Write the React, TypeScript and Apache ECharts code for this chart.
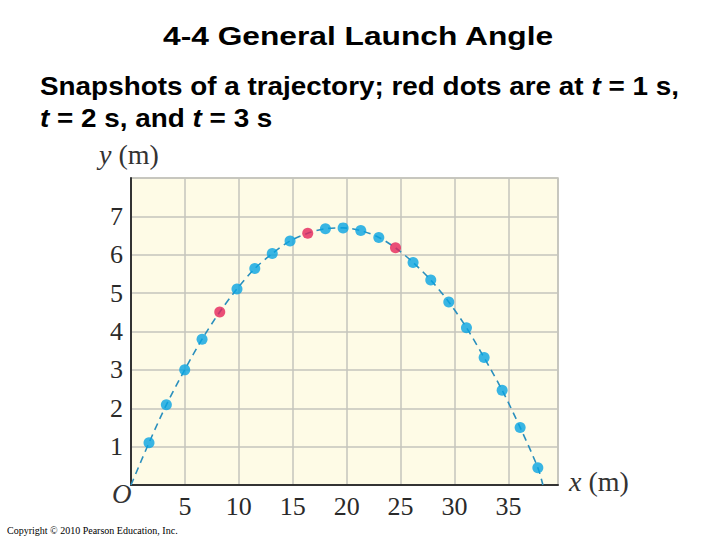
import React, { useEffect, useRef } from "react";
import * as echarts from "echarts";

// Snapshot positions (m), every 0.2 s from t = 0.2 s to t = 4.6 s
const pointX = [1.67, 3.28, 4.98, 6.59, 8.23, 9.83, 11.48, 13.1, 14.75, 16.39, 18.03, 19.67, 21.31, 22.98, 24.53, 26.16, 27.8, 29.47, 31.11, 32.75, 34.42, 36.09, 37.73];
const pointY = [1.1, 2.09, 3.0, 3.8, 4.51, 5.11, 5.64, 6.03, 6.36, 6.56, 6.68, 6.7, 6.63, 6.45, 6.18, 5.8, 5.34, 4.77, 4.1, 3.32, 2.47, 1.5, 0.45];
// indices of the red dots (t = 1 s, 2 s, 3 s)
const redIndex = [4, 9, 14];
const launchPoint = [0, 0];
const landingPoint = [38.2, 0];
const xMax = 39.6;
const yMax = 8;
const tickInterval = 5;

const titleText = "4-4 General Launch Angle";
const copyrightText = "Copyright \u00a9 2010 Pearson Education, Inc.";

export default function App() {
  const ref = useRef<HTMLDivElement>(null);
  useEffect(() => {
    if (!ref.current) return;
    const chart = echarts.init(ref.current, undefined, { renderer: "svg" });
    const all = pointX.map((x, i) => [x, pointY[i]]);
    const blue = all.filter((_, i) => !redIndex.includes(i));
    const red = all.filter((_, i) => redIndex.includes(i));
    const serif = "'Liberation Serif', 'Times New Roman', serif";
    const sans = "Arial, 'Liberation Sans', sans-serif";
    chart.setOption({
      animation: false,
      backgroundColor: "#ffffff",
      grid: {
        left: 131,
        top: 178,
        right: 162,
        bottom: 55,
        show: true,
        backgroundColor: "#fefbe6",
        borderColor: "#bdbdb5",
        borderWidth: 1.5,
      },
      xAxis: {
        type: "value",
        min: 0,
        max: xMax,
        interval: tickInterval,
        axisLine: { show: true, onZero: false, lineStyle: { color: "#333333", width: 2 } },
        axisTick: { show: false },
        splitLine: { show: true, lineStyle: { color: "#c4c4bc", width: 1.5 } },
        axisLabel: {
          fontFamily: serif,
          fontSize: 26,
          color: "#2a2a2a",
          margin: 8,
          formatter: (v: number) => (v === 0 || v > 36 ? "" : String(v)),
        },
      },
      yAxis: {
        type: "value",
        min: 0,
        max: yMax,
        interval: 1,
        axisLine: { show: true, onZero: false, lineStyle: { color: "#333333", width: 2 } },
        axisTick: { show: false },
        splitLine: { show: true, lineStyle: { color: "#c4c4bc", width: 1.5 } },
        axisLabel: {
          fontFamily: serif,
          fontSize: 26,
          color: "#2a2a2a",
          margin: 8,
          formatter: (v: number) => (v === 0 || v >= yMax ? "" : String(v)),
        },
      },
      series: [
        {
          type: "line",
          data: [launchPoint, ...all, landingPoint],
          smooth: 0.3,
          symbol: "none",
          lineStyle: { color: "#2a8fbd", width: 1.6, type: [7, 5] },
          z: 2,
        },
        {
          type: "scatter",
          data: blue,
          symbolSize: 11,
          itemStyle: { color: "#08a4e2" },
          z: 3,
        },
        {
          type: "scatter",
          data: red,
          symbolSize: 11,
          itemStyle: { color: "#e5245a" },
          z: 3,
        },
      ],
      graphic: [
        {
          type: "text",
          x: 163,
          y: 23,
          scaleX: 1.22,
          style: { text: titleText, font: `bold 26px ${sans}`, fill: "#000", align: "left", verticalAlign: "top" },
        },
        {
          type: "text",
          x: 40,
          y: 71,
          scaleX: 1.115,
          style: {
            text: "{n|Snapshots of a trajectory; red dots are at }{i|t}{n| = 1 s,}\n{i|t}{n| = 2 s, and }{i|t}{n| = 3 s}",
            align: "left",
            verticalAlign: "top",
            rich: {
              n: { font: `bold 25px ${sans}`, fill: "#000", lineHeight: 32 },
              i: { font: `italic bold 25px ${sans}`, fill: "#000", lineHeight: 32 },
            },
          },
        },
        {
          type: "text",
          x: 99,
          y: 140,
          style: {
            text: "{i|y}{n| (m)}",
            align: "left",
            verticalAlign: "top",
            rich: {
              i: { font: `italic 28px ${serif}`, fill: "#333" },
              n: { font: `28px ${serif}`, fill: "#333" },
            },
          },
        },
        {
          type: "text",
          x: 569,
          y: 467,
          style: {
            text: "{i|x}{n| (m)}",
            align: "left",
            verticalAlign: "top",
            rich: {
              i: { font: `italic 28px ${serif}`, fill: "#333" },
              n: { font: `28px ${serif}`, fill: "#333" },
            },
          },
        },
        {
          type: "text",
          x: 112,
          y: 480,
          style: { text: "O", font: `italic 27px ${serif}`, fill: "#333", align: "left", verticalAlign: "top" },
        },
        {
          type: "text",
          x: 7,
          y: 525,
          style: { text: copyrightText, font: `10px ${serif}`, fill: "#000", align: "left", verticalAlign: "top" },
        },
      ],
    });
    return () => chart.dispose();
  }, []);
  return <div ref={ref} style={{ width: 720, height: 540, position: "absolute", left: 0, top: 0 }} />;
}
